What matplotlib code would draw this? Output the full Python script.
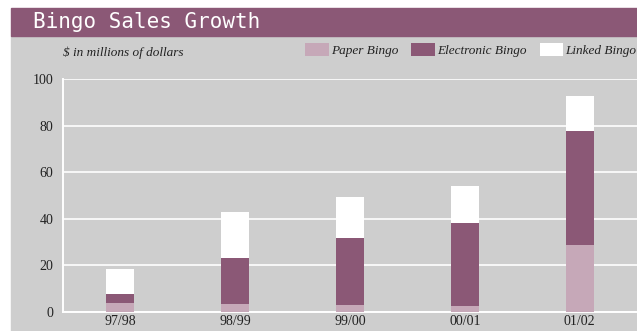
import matplotlib.pyplot as plt
import numpy as np
from matplotlib.patches import Rectangle

# Sales in millions of dollars, per fiscal year
years = ['97/98', '98/99', '99/00', '00/01', '01/02']
paper = [3.9, 3.3, 2.9, 2.4, 28.6]
electronic = [3.7, 20.0, 29.0, 36.0, 49.1]
linked = [10.7, 19.5, 17.3, 15.6, 14.9]
yticks = [0, 20, 40, 60, 80, 100]

PURPLE = '#8b5876'
PINK = '#c6a8b8'
GREY = '#cecece'

W, H = 637, 331
fig = plt.figure(figsize=(W / 100, H / 100), dpi=100)
fig.patch.set_facecolor('white')

# grey panel and purple title band
fig.patches.append(Rectangle((11 / W, 0), 1 - 11 / W, (H - 36) / H,
                             transform=fig.transFigure, color=GREY, zorder=-2))
fig.patches.append(Rectangle((11 / W, (H - 36) / H), 1 - 11 / W, 28 / H,
                             transform=fig.transFigure, color=PURPLE, zorder=-2))
fig.text(33 / W, (H - 22) / H, 'Bingo Sales Growth', color='white',
         family='DejaVu Sans Mono', fontsize=15, va='center', ha='left')

ax = fig.add_axes([63 / W, 19 / H, (W - 63) / W, 233 / H])
ax.set_facecolor(GREY)

x = np.arange(len(years))
bw = 0.245
paper_a = np.array(paper)
elec_a = np.array(electronic)
ax.bar(x, paper, bw, color=PINK, zorder=3, label='Paper Bingo')
ax.bar(x, electronic, bw, bottom=paper_a, color=PURPLE, zorder=3,
       label='Electronic Bingo')
ax.bar(x, linked, bw, bottom=paper_a + elec_a, color='white', zorder=3,
       label='Linked Bingo')

ax.set_xlim(-0.5, 4.5)
ax.set_ylim(0, 100)
ax.set_yticks(yticks)
ax.set_xticks(x)
ax.set_xticklabels(years)
ax.grid(axis='y', color='white', linewidth=1.2, zorder=1)
ax.set_axisbelow(True)
ax.tick_params(length=0, labelsize=10, colors='#222222')
ax.tick_params(axis='y', pad=7)
ax.tick_params(axis='x', pad=2)
for lab in ax.get_xticklabels() + ax.get_yticklabels():
    lab.set_family('Liberation Serif')
for side in ['top', 'right']:
    ax.spines[side].set_visible(False)
for side in ['left', 'bottom']:
    ax.spines[side].set_color('white')
    ax.spines[side].set_linewidth(1.4)

fig.text(63 / W, (H - 53) / H, '$ in millions of dollars', family='Liberation Serif',
         style='italic', fontsize=9.5, va='center', ha='left', color='#222222')

# legend along the subtitle row
handles, labels = ax.get_legend_handles_labels()
leg = fig.legend(handles, labels, loc='center right',
                 bbox_to_anchor=(1.0, (H - 50) / H), ncol=3, frameon=False,
                 prop={'family': 'Liberation Serif', 'style': 'italic', 'size': 9.5},
                 handlelength=1.8, handleheight=1.1, handletextpad=0.15,
                 columnspacing=1.0, borderaxespad=0.0, borderpad=0.05)
for t in leg.get_texts():
    t.set_color('#222222')

fig.savefig('out.png', dpi=100)
